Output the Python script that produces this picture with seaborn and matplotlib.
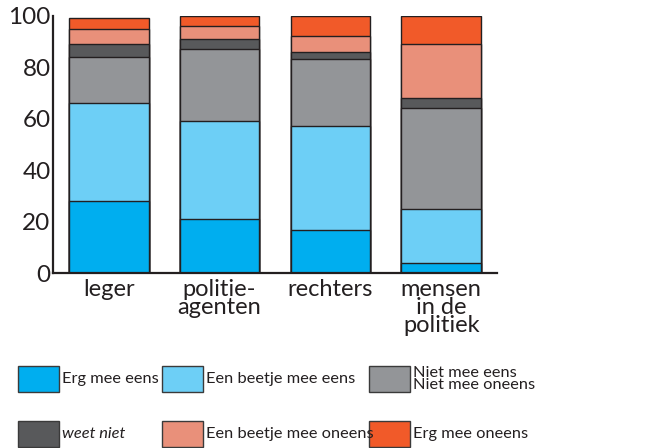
import numpy as np
import pandas as pd
import matplotlib
matplotlib.use("Agg")
import matplotlib.pyplot as plt
from matplotlib.patches import Rectangle
from matplotlib.ticker import FixedLocator
import seaborn as sns

# data (percentages)
categories = ["leger", "politie-\nagenten", "rechters", "mensen\nin de\npolitiek"]
series = ["Erg mee eens", "Een beetje mee eens", "Niet mee eens\nNiet mee oneens",
          "weet niet", "Een beetje mee oneens", "Erg mee oneens"]
erg_eens = [28, 21, 17, 4]
beetje_eens = [38, 38, 40, 21]
neutraal = [18, 28, 26, 39]
weet_niet = [5, 4, 3, 4]
beetje_oneens = [6, 5, 6, 21]
erg_oneens = [4, 4, 8, 11]
colors = ["#00aeef", "#6dcff6", "#939598", "#58595b", "#e9907a", "#f15a29"]

values = [erg_eens, beetje_eens, neutraal, weet_niet, beetje_oneens, erg_oneens]
cum = np.cumsum(np.array(values), axis=0)

ink = "#231f20"
sns.set_style("white")
plt.rcParams["font.family"] = ["Lato", "DejaVu Sans"]
plt.rcParams["text.color"] = ink

W, H = 662, 448
fig = plt.figure(figsize=(W / 100, H / 100), dpi=100)
ax = fig.add_axes([53.3 / W, 1 - 273.3 / H, 443.4 / W, 257.6 / H])

# stacked bars: draw cumulative totals from the top series down
for i in range(len(series) - 1, -1, -1):
    df = pd.DataFrame({"cat": categories, "val": cum[i]})
    sns.barplot(data=df, x="cat", y="val", order=categories, color=colors[i],
                width=0.72, saturation=1, edgecolor=ink, linewidth=1.0, ax=ax)

ax.set_xlim(-0.5, len(categories) - 0.5)
ax.set_ylim(0, 100)
ax.set_yticks([0, 20, 40, 60, 80, 100])
ax.set_xlabel("")
ax.set_ylabel("")
for s in ["top", "right"]:
    ax.spines[s].set_visible(False)
for s in ["left", "bottom"]:
    ax.spines[s].set_linewidth(1.6)
    ax.spines[s].set_color(ink)

ax.tick_params(axis="y", direction="in", length=6, width=1.6, pad=2,
               labelsize=17.5, colors=ink)
ax.tick_params(axis="x", which="major", length=0, pad=4, labelsize=17, colors=ink)
ax.xaxis.set_minor_locator(FixedLocator(np.arange(len(categories)) + 0.5))
ax.tick_params(axis="x", which="minor", direction="in", length=5, width=1.6, color=ink)
for lbl in ax.get_xticklabels():
    lbl.set_linespacing(0.83)
    lbl.set_verticalalignment("top")

# legend, drawn as a 2x3 grid below the chart
col_x = [18, 162, 369]
row_y = [379, 434]
for i, (name, c) in enumerate(zip(series, colors)):
    r, k = divmod(i, 3)
    x0 = col_x[k]
    yc = row_y[r]
    fig.add_artist(Rectangle((x0 / W, 1 - (yc + 13) / H), 41 / W, 26 / H,
                             transform=fig.transFigure, facecolor=c,
                             edgecolor="#3a3a3a", linewidth=1.0))
    fig.text((x0 + 44) / W, 1 - yc / H, name, ha="left", va="center",
             fontsize=11.8, linespacing=0.85,
             style="italic" if name == "weet niet" else "normal")

fig.savefig("out.png", dpi=100)
